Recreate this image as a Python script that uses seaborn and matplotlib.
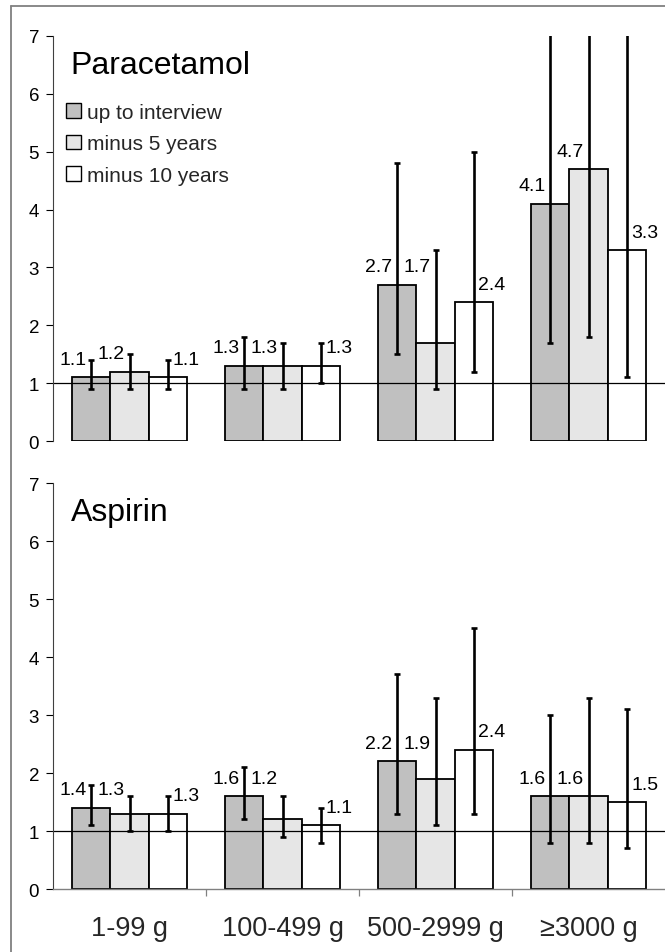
import numpy as np
import pandas as pd
import matplotlib
matplotlib.use("Agg")
import matplotlib.pyplot as plt
from matplotlib.lines import Line2D
from matplotlib.patches import Patch
import seaborn as sns

# dados (odds ratio e IC 95%)
doses = ["1-99 g", "100-499 g", "500-2999 g", "\u22653000 g"]
periodos = ["up to interview", "minus 5 years", "minus 10 years"]

para_or = [[1.1, 1.2, 1.1], [1.3, 1.3, 1.3], [2.7, 1.7, 2.4], [4.1, 4.7, 3.3]]
para_lo = [[0.9, 0.9, 0.9], [0.9, 0.9, 1.0], [1.5, 0.9, 1.2], [1.7, 1.8, 1.1]]
para_hi = [[1.4, 1.5, 1.4], [1.8, 1.7, 1.7], [4.8, 3.3, 5.0], [9.5, 10.5, 9.8]]  # ultimo grupo passa de 7

asp_or = [[1.4, 1.3, 1.3], [1.6, 1.2, 1.1], [2.2, 1.9, 2.4], [1.6, 1.6, 1.5]]
asp_lo = [[1.1, 1.0, 1.0], [1.2, 0.9, 0.8], [1.3, 1.1, 1.3], [0.8, 0.8, 0.7]]
asp_hi = [[1.8, 1.6, 1.6], [2.1, 1.6, 1.4], [3.7, 3.3, 4.5], [3.0, 3.3, 3.1]]

cores = ["#c0c0c0", "#e6e6e6", "#ffffff"]

sns.set_theme(style="white")
plt.rcParams["font.family"] = ["Liberation Sans", "DejaVu Sans"]


def montar_df(valores, lo, hi):
    linhas = []
    for i, d in enumerate(doses):
        for j, p in enumerate(periodos):
            linhas.append({"dose": d, "periodo": p, "or": valores[i][j],
                           "lo": lo[i][j], "hi": hi[i][j]})
    return pd.DataFrame(linhas)


fig = plt.figure(figsize=(6.65, 9.53), dpi=100)
ax_top = fig.add_axes([0.0797, 0.5362, 0.9203, 0.4250])
ax_bot = fig.add_axes([0.0797, 0.0661, 0.9203, 0.4260])

paineis = [
    (ax_top, "Paracetamol", montar_df(para_or, para_lo, para_hi)),
    (ax_bot, "Aspirin", montar_df(asp_or, asp_lo, asp_hi)),
]

for ax, nome, df in paineis:
    sns.barplot(data=df, x="dose", y="or", hue="periodo", order=doses,
                hue_order=periodos, palette=cores, edgecolor="black",
                linewidth=1.3, width=0.75, errorbar=None, saturation=1,
                legend=False, ax=ax)
    barras = list(ax.containers)

    # linha de referencia em 1
    ax.axhline(1, color="black", lw=0.9, zorder=1.5)

    for j, cont in enumerate(barras):
        sub = df[df["periodo"] == periodos[j]].set_index("dose").loc[doses]
        xs = np.array([b.get_x() + b.get_width() / 2 for b in cont])
        ax.errorbar(xs, sub["or"], yerr=[sub["or"] - sub["lo"], sub["hi"] - sub["or"]],
                    fmt="none", ecolor="black", elinewidth=1.9, capsize=2.3,
                    capthick=1.9, zorder=3)

    # rótulos dos valores
    for i in range(len(doses)):
        y_primeiro = None
        for j, cont in enumerate(barras):
            b = cont[i]
            v = b.get_height()
            xc = b.get_x() + b.get_width() / 2
            dx = 0.12 if j == 2 else -0.12
            y = v + 0.31
            if j == 0:
                y_primeiro = y
            elif j == 1:
                y = max(y, y_primeiro)
            ax.text(xc + dx, y, f"{v:.1f}", ha="center", va="center",
                    fontsize=14, color="black", zorder=4)

    ax.text(0.029, 0.965, nome, transform=ax.transAxes, ha="left", va="top",
            fontsize=23, color="black")

    ax.set_ylim(0, 7)
    ax.set_xlim(-0.5, 3.5)
    ax.set_yticks(range(0, 8))
    ax.set_xlabel("")
    ax.set_ylabel("")
    ax.tick_params(axis="y", direction="out", length=5, width=0.8, pad=5,
                   labelsize=13.5, colors="black", left=True)
    for s in ["top", "right"]:
        ax.spines[s].set_visible(False)
    ax.spines["left"].set_color("#404040")
    ax.spines["left"].set_linewidth(0.8)

# painel de cima sem eixo x
ax_top.spines["bottom"].set_visible(False)
ax_top.set_xticks([])

ax_bot.spines["bottom"].set_color("#808080")
ax_bot.spines["bottom"].set_linewidth(1.0)
ax_bot.set_xticks(range(len(doses)))
ax_bot.set_xticklabels(doses)
ax_bot.set_xticks([0.5, 1.5, 2.5], minor=True)
ax_bot.tick_params(axis="x", which="major", length=0, pad=19, labelsize=19.5)
ax_bot.tick_params(axis="x", which="minor", direction="out", length=5,
                   width=0.9, color="#808080", bottom=True)

# legenda
handles = [Patch(facecolor=c, edgecolor="black", linewidth=1.0) for c in cores]
ax_top.legend(handles, periodos, loc="upper left", bbox_to_anchor=(0.022, 0.835),
              frameon=False, fontsize=15, handlelength=0.7, handleheight=0.7,
              handletextpad=0.3, labelspacing=0.6, borderpad=0, borderaxespad=0)

# moldura externa
fig.add_artist(Line2D([11 / 665, 11 / 665], [0, 1 - 7 / 953], color="#808080", lw=1.3))
fig.add_artist(Line2D([11 / 665, 1], [1 - 7 / 953, 1 - 7 / 953], color="#808080", lw=1.3))

fig.savefig("out.png", dpi=100)
